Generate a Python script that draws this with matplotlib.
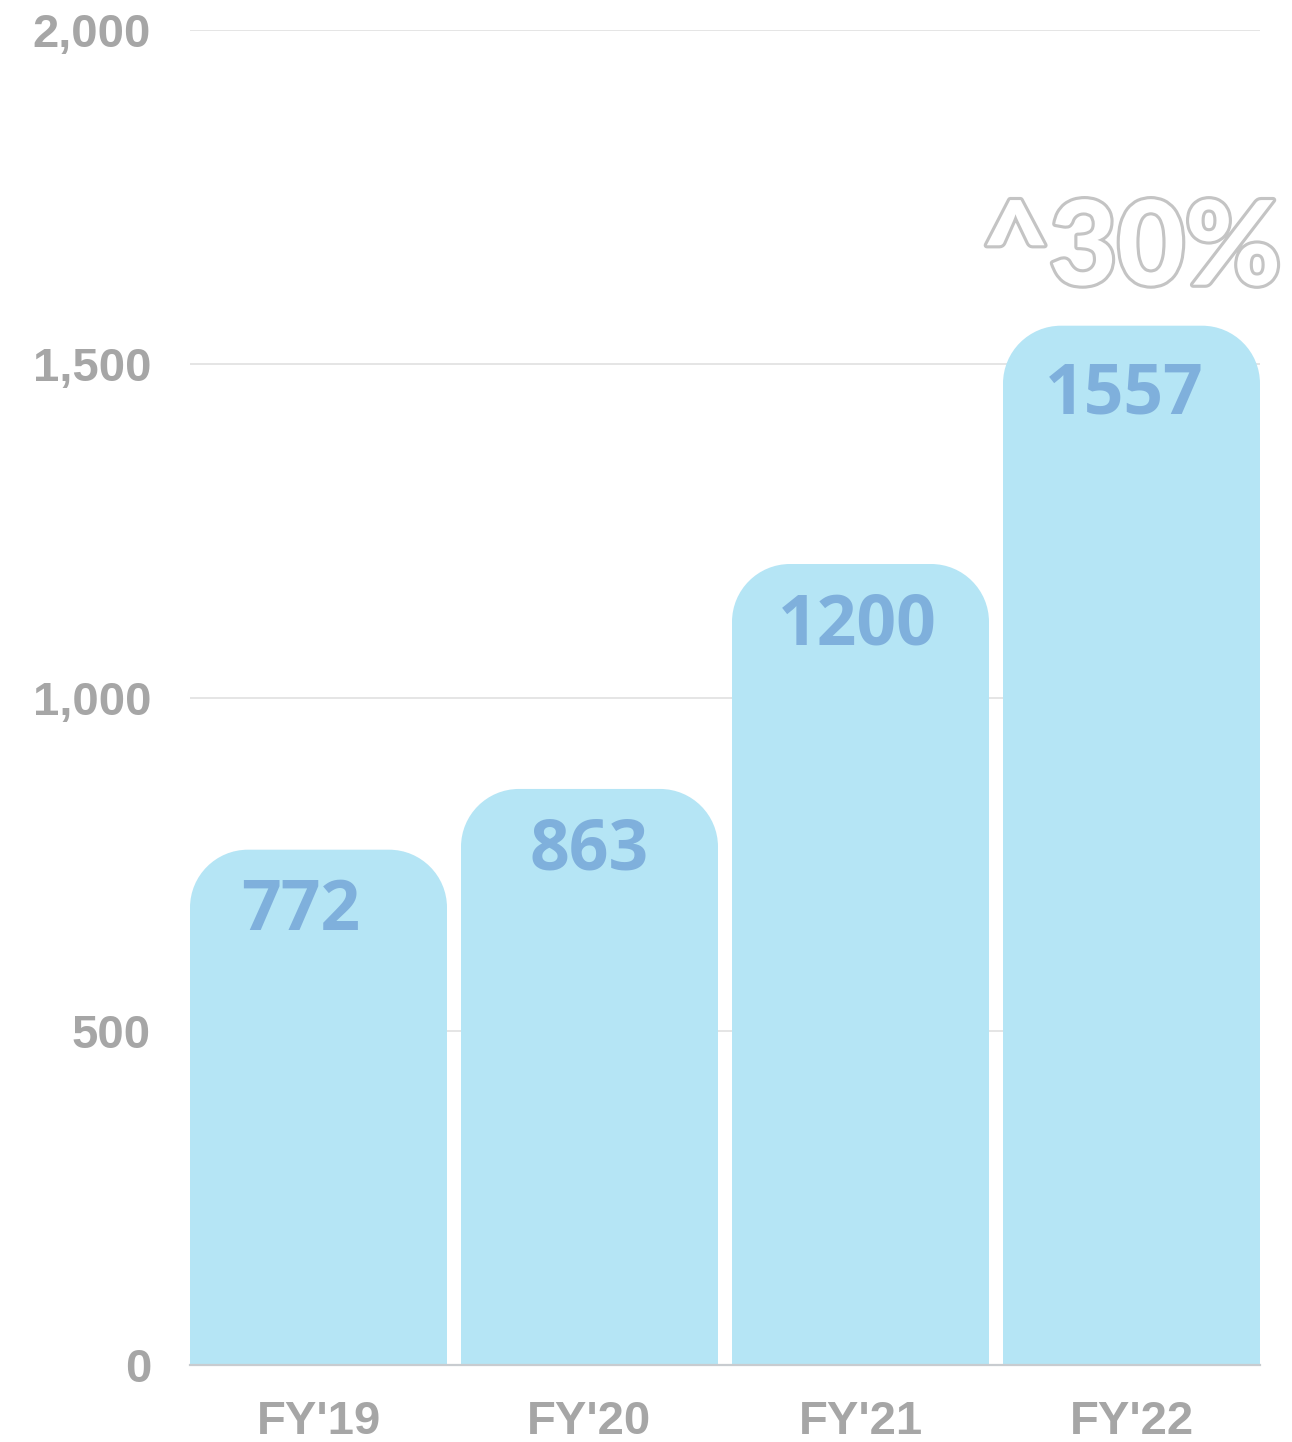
import matplotlib
matplotlib.use("Agg")
import matplotlib.pyplot as plt
from matplotlib.path import Path
from matplotlib.patches import PathPatch
import matplotlib.patheffects as pe

categories = ["FY'19", "FY'20", "FY'21", "FY'22"]
values = [772, 863, 1200, 1557]
yticks = [0, 500, 1000, 1500, 2000]
ytick_labels = ["0", "500", "1,000", "1,500", "2,000"]
growth_label = "^30%"

W, H, DPI = 1292, 1442, 100
fig = plt.figure(figsize=(W / DPI, H / DPI), dpi=DPI)
left, right, top, bottom = 190, 1260, 30, 1365
ax = fig.add_axes([left / W, (H - bottom) / H, (right - left) / W, (bottom - top) / H])

bar_w = 257 / 271
ax.set_xlim(-bar_w / 2, len(categories) - 1 + bar_w / 2)
ax.set_ylim(0, 2000)

# pixel scale for corner radius
px_x = (right - left) / (ax.get_xlim()[1] - ax.get_xlim()[0])
px_y = (bottom - top) / 2000
r_px = 58
rx, ry = r_px / px_x, r_px / px_y
k = 0.5523

bar_color = "#b5e5f5"
for i, v in enumerate(values):
    x0, x1 = i - bar_w / 2, i + bar_w / 2
    verts = [(x0, 0), (x0, v - ry),
             (x0, v - ry + k * ry), (x0 + rx - k * rx, v), (x0 + rx, v),
             (x1 - rx, v),
             (x1 - rx + k * rx, v), (x1, v - ry + k * ry), (x1, v - ry),
             (x1, 0), (x0, 0)]
    codes = [Path.MOVETO, Path.LINETO,
             Path.CURVE4, Path.CURVE4, Path.CURVE4,
             Path.LINETO,
             Path.CURVE4, Path.CURVE4, Path.CURVE4,
             Path.LINETO, Path.CLOSEPOLY]
    ax.add_patch(PathPatch(Path(verts, codes), facecolor=bar_color, edgecolor="none", zorder=2))

label_dx = [-13, 0, -2, -5]
label_dy = [-45, -45, -45, -50]
for i, v in enumerate(values):
    ax.annotate(str(v), xy=(i, v), xytext=(label_dx[i], label_dy[i]), textcoords="offset points",
                ha="center", va="center", fontsize=50, fontweight="bold",
                family=["Open Sans", "DejaVu Sans"], color="#7fb0dc", zorder=3)

# growth annotation
t = ax.annotate(growth_label, xy=(len(values) - 1, values[-1]), xytext=(0, 54),
                textcoords="offset points", ha="center", va="center",
                fontsize=84, fontweight="black", family=["Lato", "DejaVu Sans"],
                color="white", zorder=4, annotation_clip=False)
t.set_path_effects([pe.Stroke(linewidth=4.5, foreground="#c4c4c4"), pe.Normal()])

ax.set_yticks(yticks)
ax.set_yticklabels(ytick_labels)
ax.set_xticks(range(len(categories)))
ax.set_xticklabels(categories)
ax.tick_params(axis="y", length=0, pad=28, labelsize=34, labelcolor="#a6a6a6")
ax.tick_params(axis="x", length=0, pad=25, labelsize=34, labelcolor="#a6a6a6")
for lab in ax.get_xticklabels() + ax.get_yticklabels():
    lab.set_fontweight("bold")
    lab.set_family(["Liberation Sans", "DejaVu Sans"])

ax.grid(axis="y", color="#e3e3e3", linewidth=1.3, zorder=0)
ax.set_axisbelow(True)
for s in ["top", "right", "left"]:
    ax.spines[s].set_visible(False)
ax.spines["bottom"].set_color("#c8ccd0")
ax.spines["bottom"].set_linewidth(1.6)
ax.spines["bottom"].set_zorder(5)

fig.savefig("out.png", dpi=DPI)
